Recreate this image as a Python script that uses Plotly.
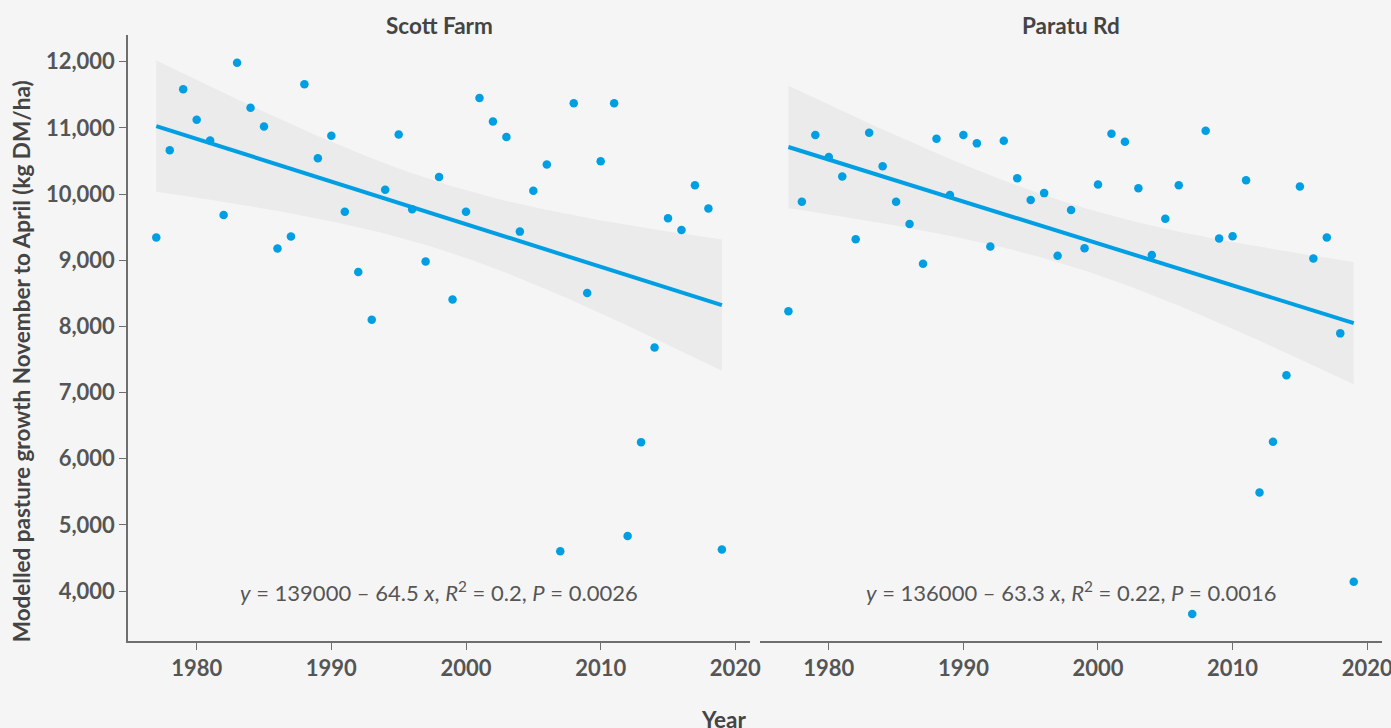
import numpy as np
import plotly.graph_objects as go

# ---------------- data ----------------
years = list(range(1977, 2020))

scott_farm = [
    9343, 10662, 11584, 11123, 10812, 9684, 11985, 11304, 11023, 9178,
    9358, 11659, 10541, 10883, 9734, 8822, 8100, 10065, 10902, 9770,
    8982, 10260, 8406, 9734, 11454, 11098, 10862, 9433, 10050, 10446,
    4602, 11373, 8506, 10496, 11373, 4832, 6251, 7680, 9634, 9459,
    10135, 9784, 4627,
]

paratu_rd = [
    8230, 9884, 10892, 10561, 10266, 9318, 10927, 10421, 9884, 9549,
    8947, 10837, 9985, 10892, 10767, 9208, 10807, 10241, 9910, 10015,
    9068, 9759, 9183, 10146, 10913, 10792, 10090, 9078, 9629, 10135,
    3654, 10958, 9328, 9363, 10211, 5489, 6256, 7263, 10115, 9028,
    9343, 7895, 4140,
]

panel_titles = ["Scott Farm", "Paratu Rd"]
equations = [
    "<i>y</i> = 139000 \u2013 64.5 <i>x</i>, <i>R</i><sup>2</sup> = 0.2, <i>P</i> = 0.0026",
    "<i>y</i> = 136000 \u2013 63.3 <i>x</i>, <i>R</i><sup>2</sup> = 0.22, <i>P</i> = 0.0016",
]
x_ticks = [1980, 1990, 2000, 2010, 2020]
y_ticks = [4000, 5000, 6000, 7000, 8000, 9000, 10000, 11000, 12000]

# ---------------- style ----------------
BG = "#f5f5f5"
BLUE = "#009fe3"
RIBBON = "#ebebeb"
AXIS = "#6e6e6e"
TICKTXT = "#555555"
TITLETXT = "#444444"
FONT = "Lato"

T975 = 2.0195  # t quantile, df = 41


def lm_band(x, y, grid):
    x = np.asarray(x, float)
    y = np.asarray(y, float)
    n = len(x)
    b, a = np.polyfit(x, y, 1)
    resid = y - (a + b * x)
    s = np.sqrt(np.sum(resid ** 2) / (n - 2))
    sxx = np.sum((x - x.mean()) ** 2)
    fit = a + b * grid
    se = s * np.sqrt(1.0 / n + (grid - x.mean()) ** 2 / sxx)
    return fit, fit - T975 * se, fit + T975 * se


fig = go.Figure()
series = [scott_farm, paratu_rd]
axes = [("x", "y"), ("x2", "y2")]
grid = np.linspace(min(years), max(years), 120)

for data, (xa, ya) in zip(series, axes):
    fit, lo, hi = lm_band(years, data, grid)
    fig.add_trace(go.Scatter(
        x=np.concatenate([grid, grid[::-1]]),
        y=np.concatenate([hi, lo[::-1]]),
        fill="toself", fillcolor=RIBBON, line=dict(width=0),
        mode="lines", hoverinfo="skip", showlegend=False,
        xaxis=xa, yaxis=ya,
    ))
    fig.add_trace(go.Scatter(
        x=years, y=data, mode="markers",
        marker=dict(color=BLUE, size=8.5, line=dict(width=0)),
        showlegend=False, xaxis=xa, yaxis=ya,
    ))
    fig.add_trace(go.Scatter(
        x=grid, y=fit, mode="lines",
        line=dict(color=BLUE, width=4),
        showlegend=False, xaxis=xa, yaxis=ya,
    ))

# layout geometry (pixels)
W, H = 1391, 728
L, R, T, B = 127.7, 9, 34.5, 86.5
pw = W - L - R
ph = H - T - B
split_l = (750 - L) / pw
split_r = (760 - L) / pw

x_range = [1974.9, 2021.1]
y_range = [3245, 12405]

TICKFONT = dict(family=FONT, size=22, color=TICKTXT, weight="bold")

xaxis_common = dict(
    range=x_range, tickvals=x_ticks, ticks="outside", ticklen=7,
    tickwidth=1.3, tickcolor=AXIS, showline=True, linecolor=AXIS,
    linewidth=1.5, showgrid=False, zeroline=False,
    tickfont=TICKFONT, ticklabeloverflow="allow",
)

fig.update_layout(
    width=W, height=H,
    paper_bgcolor=BG, plot_bgcolor=BG,
    margin=dict(l=L, r=R, t=T, b=B, autoexpand=False),
    showlegend=False,
    xaxis=dict(**xaxis_common, anchor="y", domain=[0, split_l]),
    xaxis2=dict(**xaxis_common, anchor="y2", domain=[split_r, 1]),
    yaxis=dict(
        range=y_range, tickvals=y_ticks, tickformat=",d",
        ticks="outside", ticklen=7, tickwidth=1.3, tickcolor=AXIS,
        showline=True, linecolor=AXIS, linewidth=1.5,
        showgrid=False, zeroline=False, anchor="x",
        tickfont=TICKFONT, ticklabeloverflow="allow",
    ),
    yaxis2=dict(
        range=y_range, matches="y", showticklabels=False, ticks="",
        showline=False, showgrid=False, zeroline=False, anchor="x2",
    ),
)

annotations = []
centers = [split_l / 2, (split_r + 1) / 2]
for title, cx in zip(panel_titles, centers):
    annotations.append(dict(
        text=title, x=cx, y=(H - B - 25) / ph, xref="paper", yref="paper",
        xanchor="center", yanchor="middle", showarrow=False,
        font=dict(family=FONT, size=22.5, color=TITLETXT, weight="bold"),
    ))
for eq, (xa, ya) in zip(equations, axes):
    annotations.append(dict(
        text=eq, x=(x_range[0] + x_range[1]) / 2, y=4000,
        xref=xa, yref=ya, xanchor="center", yanchor="middle",
        showarrow=False,
        font=dict(family=FONT, size=22, color=TICKTXT),
    ))
annotations.append(dict(
    text="Year", x=(723 - L) / pw, y=(H - B - 720) / ph,
    xref="paper", yref="paper", xanchor="center", yanchor="middle",
    showarrow=False,
    font=dict(family=FONT, size=22.5, color=TITLETXT, weight="bold"),
))
annotations.append(dict(
    text="Modelled pasture growth November to April (kg DM/ha)",
    x=(22 - L) / pw, y=(H - B - 361) / ph, xref="paper", yref="paper",
    xanchor="center", yanchor="middle", textangle=-90, showarrow=False,
    font=dict(family=FONT, size=22.5, color=TITLETXT, weight="bold"),
))
fig.update_layout(annotations=annotations)

fig.write_html(
    "out.html",
    config={"displayModeBar": False},
    post_script="document.body.style.margin='0';document.body.style.background='#f5f5f5';",
)
